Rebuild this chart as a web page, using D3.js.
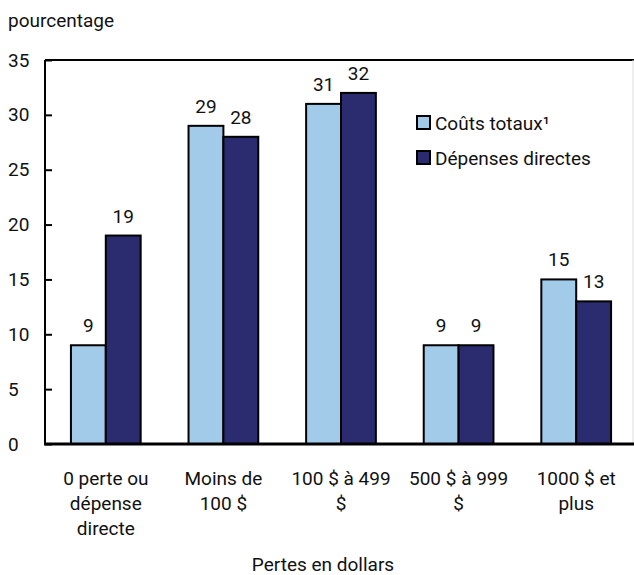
<!DOCTYPE html>
<html><head><meta charset="utf-8">
<script src="https://cdn.jsdelivr.net/npm/d3@7"></script>
<style>body{margin:0;background:#fff}svg{display:block}text{font-family:Roboto,"Liberation Sans",sans-serif;fill:#111}</style>
</head><body><div id="chart"></div>
<script>
const categories = [["0 perte ou","dépense","directe"],["Moins de","100 $"],["100 $ à 499","$"],["500 $ à 999","$"],["1000 $ et","plus"]];
const seriesNames = ["Coûts totaux¹","Dépenses directes"];
const coutsTotaux = [9,29,31,9,15];
const depensesDirectes = [19,28,32,9,13];
const yTicks = [0,5,10,15,20,25,30,35];
const colors = ["#a2cbea","#2b2b6f"];

(function(){
const W=634,H=575;
const svg=d3.select("#chart").append("svg").attr("width",W).attr("height",H);
const pLeft=45, pRight=633, pTop=60, pBottom=444;
const ids=d3.range(categories.length);
const x=d3.scaleBand().domain(ids).range([pLeft+2,pRight+2]).paddingInner(0.407).paddingOuter(0.2035);
const xs=d3.scaleBand().domain([0,1]).range([0,x.bandwidth()]);
const y=d3.scaleLinear().domain([0,35]).range([pBottom,pTop]);
const fs=19;

svg.append("text").attr("x",8).attr("y",27).attr("font-size",fs).text("pourcentage");
svg.append("line").attr("x1",pLeft).attr("x2",pRight+1).attr("y1",pTop).attr("y2",pTop).attr("stroke","#000").attr("stroke-width",2);
svg.append("line").attr("x1",pRight).attr("x2",pRight).attr("y1",pTop).attr("y2",pBottom).attr("stroke","#ddd").attr("stroke-width",1);

const data=ids.map(i=>[coutsTotaux[i],depensesDirectes[i]]);
const g=svg.append("g");
ids.forEach(i=>{
  data[i].forEach((v,s)=>{
    g.append("rect").attr("x",x(i)+xs(s)).attr("y",y(v)).attr("width",xs.bandwidth()).attr("height",y(0)-y(v))
     .attr("fill",colors[s]).attr("stroke","#000").attr("stroke-width",2);
    g.append("text").attr("x",x(i)+xs(s)+xs.bandwidth()/2).attr("y",y(v)-13).attr("text-anchor","middle").attr("font-size",fs).text(v);
  });
});

const yAxis=d3.axisLeft(y).tickValues(yTicks).tickSize(-7).tickPadding(16).tickFormat(d3.format("d"));
const ya=svg.append("g").attr("transform",`translate(${pLeft},0)`).call(yAxis);
ya.select(".domain").attr("stroke","#000").attr("stroke-width",2).attr("d",`M0,${pTop}V${pBottom}`);
ya.selectAll(".tick line").attr("stroke","#000").attr("stroke-width",2);
ya.selectAll(".tick text").attr("font-size",fs).attr("text-anchor","start").attr("x",-37).attr("fill","#111").style("font-family","Roboto,sans-serif");

const xAxis=d3.axisBottom(x).tickSize(0).tickFormat(()=>"");
const xa=svg.append("g").attr("transform",`translate(0,${pBottom})`).call(xAxis);
xa.select(".domain").remove();
svg.append("line").attr("x1",pLeft-1).attr("x2",pRight+1).attr("y1",pBottom).attr("y2",pBottom).attr("stroke","#000").attr("stroke-width",3);
xa.selectAll(".tick").each(function(i){
  const t=d3.select(this).append("text").attr("text-anchor","middle").attr("font-size",fs).attr("fill","#111").style("font-family","Roboto,sans-serif");
  categories[i].forEach((ln,k)=>t.append("tspan").attr("x",0).attr("y",41+k*25).text(ln));
});
svg.append("text").attr("x",323).attr("y",571).attr("text-anchor","middle").attr("font-size",fs).text("Pertes en dollars");

const lg=svg.append("g");
seriesNames.forEach((n,s)=>{
  lg.append("rect").attr("x",417).attr("y",116+s*35).attr("width",13).attr("height",13).attr("fill",colors[s]).attr("stroke","#000").attr("stroke-width",2);
  lg.append("text").attr("x",435).attr("y",130+s*35).attr("font-size",fs).text(n);
});
})();
</script></body></html>
